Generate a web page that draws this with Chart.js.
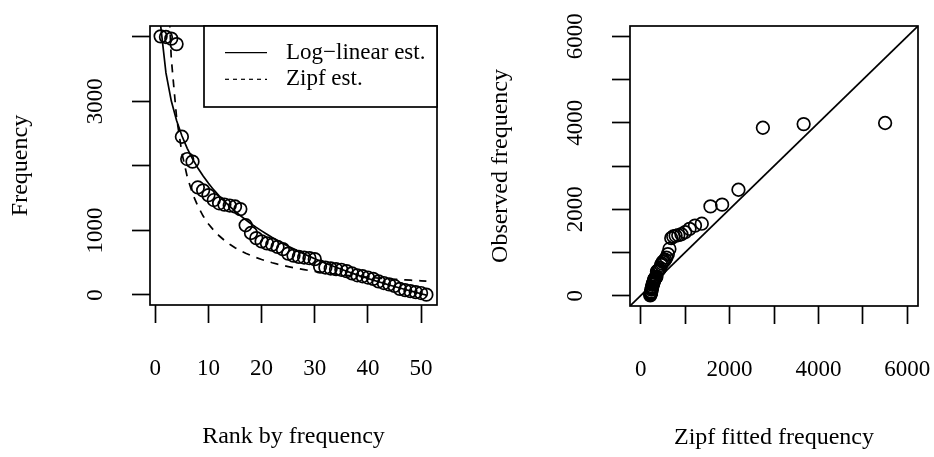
<!DOCTYPE html>
<html>
<head>
<meta charset="utf-8">
<title>Rank-frequency plots</title>
<script src="https://cdn.jsdelivr.net/npm/chart.js@4.4.1/dist/chart.umd.min.js"></script>
<style>
  html, body { margin: 0; padding: 0; background: #fff; }
  #wrap { position: relative; width: 934px; height: 457px; }
  canvas { position: absolute; top: 0; }
  #rankChart { left: 0; }
  #fitChart { left: 467px; }
</style>
</head>
<body>
<div id="wrap">
  <canvas id="rankChart" width="467" height="457"></canvas>
  <canvas id="fitChart" width="467" height="457"></canvas>
</div>
<script>
// ranks 1..51 and the observed count for each
const ranks = [1, 2, 3, 4, 5, 6, 7, 8, 9, 10, 11, 12, 13, 14, 15, 16, 17, 18, 19, 20,
  21, 22, 23, 24, 25, 26, 27, 28, 29, 30, 31, 32, 33, 34, 35, 36, 37, 38, 39, 40,
  41, 42, 43, 44, 45, 46, 47, 48, 49, 50, 51];
const observed = [4005, 3995, 3970, 3885, 2450, 2105, 2065, 1665, 1620, 1545,
  1470, 1420, 1400, 1385, 1370, 1330, 1080, 960, 880, 830,
  800, 780, 745, 710, 640, 610, 590, 580, 570, 555,
  440, 425, 410, 400, 390, 370, 335, 305, 290, 270,
  250, 210, 185, 165, 140, 95, 75, 60, 45, 30, 5];

// fitted values of the two models at each rank
const logLinearFit = [4174, 3438, 3007, 2702, 2465, 2271, 2107, 1966, 1841, 1729,
  1627, 1535, 1450, 1371, 1298, 1229, 1165, 1104, 1047, 993,
  941, 891, 844, 799, 756, 714, 674, 635, 598, 562,
  527, 493, 461, 429, 398, 368, 339, 311, 283, 256,
  230, 205, 180, 155, 131, 108, 85, 63, 41, 19, -2];
const zipfFit = [11000, 5500, 3667, 2750, 2200, 1833, 1571, 1375, 1222, 1100,
  1000, 917, 846, 786, 733, 688, 647, 611, 579, 550,
  524, 500, 478, 458, 440, 423, 407, 393, 379, 367,
  355, 344, 333, 324, 314, 306, 297, 289, 282, 275,
  268, 262, 256, 250, 244, 239, 234, 229, 224, 220, 216];

// tick positions, and the ones that get a printed label
const rankTicks = [0, 10, 20, 30, 40, 50];
const freqTicks = [0, 1000, 2000, 3000, 4000];
const fitTicks = [0, 1000, 2000, 3000, 4000, 5000, 6000];
const rankTickLabels = [0, 10, 20, 30, 40, 50];
const freqTickLabels = [0, 1000, 3000];
const fitTickLabels = [0, 2000, 4000, 6000];
const fitLimits = [0, 6000];

const FONT = '23px "Liberation Serif", serif';
const TITLE_FONT = '24px "Liberation Serif", serif';
const LW = 1.7;

// widen a range by 4% on each side, like base R graphics
function padRange(lo, hi) {
  const d = (hi - lo) * 0.04;
  return [lo - d, hi + d];
}

// box, tick labels, axis titles and legend drawn in base-graphics style
const baseGraphics = {
  id: 'baseGraphics',
  afterDraw(chart, args, opts) {
    const { ctx, chartArea: a, scales } = chart;
    ctx.save();
    ctx.strokeStyle = '#000';
    ctx.lineWidth = LW;
    ctx.strokeRect(a.left, a.top, a.right - a.left, a.bottom - a.top);

    ctx.fillStyle = '#000';
    ctx.font = FONT;
    ctx.textAlign = 'center';
    ctx.textBaseline = 'middle';

    scales.x.ticks.forEach(t => {
      if (opts.xLabels.includes(t.value)) {
        ctx.fillText(String(t.value), scales.x.getPixelForValue(t.value), a.bottom + 64);
      }
    });
    scales.y.ticks.forEach(t => {
      if (opts.yLabels.includes(t.value)) {
        ctx.save();
        ctx.translate(a.left - 54, scales.y.getPixelForValue(t.value));
        ctx.rotate(-Math.PI / 2);
        ctx.fillText(String(t.value), 0, 0);
        ctx.restore();
      }
    });

    ctx.font = TITLE_FONT;
    ctx.fillText(opts.xTitle, (a.left + a.right) / 2, a.bottom + 132);
    ctx.save();
    ctx.translate(a.left - 129, (a.top + a.bottom) / 2);
    ctx.rotate(-Math.PI / 2);
    ctx.fillText(opts.yTitle, 0, 0);
    ctx.restore();

    if (opts.legend) {
      const items = chart.data.datasets.filter(d => d.label);
      const bw = 233, bh = 81;
      const bx = a.right - bw, by = a.top;
      ctx.font = FONT;
      ctx.fillStyle = '#fff';
      ctx.fillRect(bx, by, bw, bh);
      ctx.lineWidth = LW;
      ctx.strokeRect(bx, by, bw, bh);
      ctx.fillStyle = '#000';
      ctx.textAlign = 'left';
      items.forEach((d, i) => {
        const y = by + 26.7 + i * 26.6;
        ctx.lineWidth = 1.2;
        ctx.setLineDash(d.borderDash && d.borderDash.length ? [4, 4] : []);
        ctx.beginPath();
        ctx.moveTo(bx + 21, y);
        ctx.lineTo(bx + 63, y);
        ctx.stroke();
        ctx.setLineDash([]);
        ctx.fillText(d.label, bx + 82, y);
      });
    }
    ctx.restore();
  }
};

function axis(range, tickValues, size) {
  return {
    type: 'linear',
    min: range[0],
    max: range[1],
    ticks: { display: false },
    afterBuildTicks(scale) {
      scale.ticks = tickValues.map(v => ({ value: v }));
    },
    grid: { display: true, drawOnChartArea: false, drawTicks: true, tickLength: 18, tickWidth: LW, tickColor: '#000' },
    border: { display: false },
    afterFit(scale) {
      if (scale.isHorizontal()) scale.height = size; else scale.width = size;
    }
  };
}

const circles = {
  showLine: false,
  pointStyle: 'circle',
  pointRadius: 6.3,
  pointBorderWidth: LW,
  pointBorderColor: '#000',
  pointBackgroundColor: 'rgba(0,0,0,0)',
  pointHoverRadius: 6.3
};

const common = {
  responsive: false,
  animation: false,
  events: [],
  plugins: { legend: { display: false }, tooltip: { enabled: false } }
};

// left: observed frequency against rank, with both fitted curves
const rankRange = padRange(Math.min(...ranks), Math.max(...ranks));
const freqRange = padRange(Math.min(...observed), Math.max(...observed));

new Chart(document.getElementById('rankChart'), {
  type: 'scatter',
  data: {
    datasets: [
      Object.assign({ data: ranks.map((r, i) => ({ x: r, y: observed[i] })) }, circles),
      {
        label: 'Log\u2212linear est.',
        data: ranks.map((r, i) => ({ x: r, y: logLinearFit[i] })),
        showLine: true, pointRadius: 0, borderColor: '#000', borderWidth: LW, clip: 0
      },
      {
        label: 'Zipf est.',
        data: ranks.map((r, i) => ({ x: r, y: zipfFit[i] })),
        showLine: true, pointRadius: 0, borderColor: '#000', borderWidth: LW,
        borderDash: [8, 7], clip: 0
      }
    ]
  },
  options: Object.assign({}, common, {
    layout: { padding: { left: 90, right: 30, top: 26, bottom: 92 } },
    scales: { x: axis(rankRange, rankTicks, 60), y: axis(freqRange, freqTicks, 60) },
    plugins: Object.assign({}, common.plugins, {
      baseGraphics: {
        xLabels: rankTickLabels, yLabels: freqTickLabels,
        xTitle: 'Rank by frequency', yTitle: 'Frequency', legend: true
      }
    })
  }),
  plugins: [baseGraphics]
});

// right: observed against Zipf fitted frequency, with the y = x line
const fitRange = padRange(fitLimits[0], fitLimits[1]);

new Chart(document.getElementById('fitChart'), {
  type: 'scatter',
  data: {
    datasets: [
      {
        data: [{ x: fitRange[0], y: fitRange[0] }, { x: fitRange[1], y: fitRange[1] }],
        showLine: true, pointRadius: 0, borderColor: '#000', borderWidth: LW, clip: 0
      },
      Object.assign({ data: zipfFit.map((z, i) => ({ x: z, y: observed[i] })) }, circles)
    ]
  },
  options: Object.assign({}, common, {
    layout: { padding: { left: 103, right: 16, top: 26, bottom: 91 } },
    scales: { x: axis(fitRange, fitTicks, 60), y: axis(fitRange, fitTicks, 60) },
    plugins: Object.assign({}, common.plugins, {
      baseGraphics: {
        xLabels: fitTickLabels, yLabels: fitTickLabels,
        xTitle: 'Zipf fitted frequency', yTitle: 'Observed frequency', legend: false
      }
    })
  }),
  plugins: [baseGraphics]
});
</script>
</body>
</html>
